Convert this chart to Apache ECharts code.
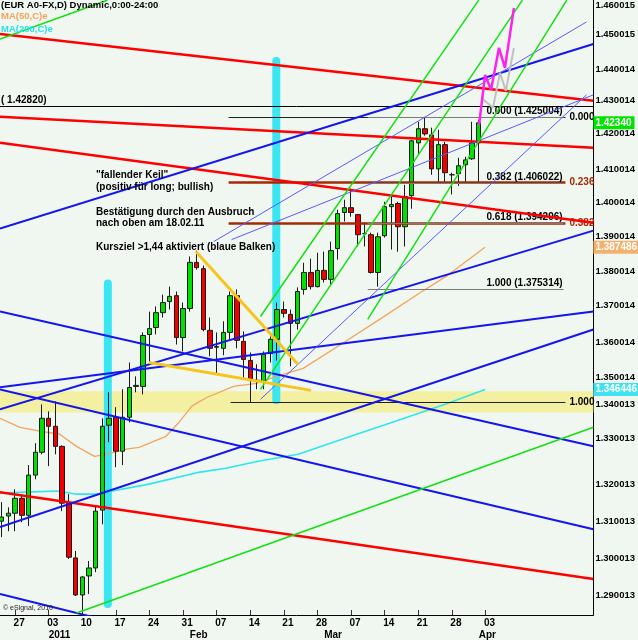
<!DOCTYPE html>
<html><head><meta charset="utf-8">
<script src="https://cdn.jsdelivr.net/npm/echarts@6/dist/echarts.min.js"></script>
<style>html,body{margin:0;padding:0;background:#f0f7f0}#c{width:638px;height:640px}</style>
</head><body><div id="c"></div>
<script>
// trading-day index: 0 = 03 Jan 2011, first candle = 23 Dec 2010
const firstIdx = -7;
const opens = [1.3084,1.3099,1.3107,1.3150,1.3101,1.3217,1.3283,
 1.3381,1.3358,1.3300,1.3136,1.2978, 1.2871,1.2926,1.2949,1.3116,1.3361,
 1.3384,1.3286,1.3384,1.3473,1.3473, 1.3623,1.3643,1.3686,1.3718,1.3735,
 1.3614,1.3698,1.3831,1.3813,1.3635, 1.3586,1.3583,1.3629,1.3735,1.3603,
 1.3548,1.3488,1.3485,1.3568,1.3609, 1.3695,1.3681,1.3655,1.3753,1.3802,
 1.3761,1.3808,1.3782,1.3871,1.3975, 1.3989,1.3969,1.3914,1.3911,1.3802,
 1.3908,1.3992,1.4001,1.3934,1.4024, 1.4176,1.4217,1.4199,1.4101,1.4171,
 1.4084,1.4087,1.4113,1.4130,1.4176];
const closes = [1.3096,1.3107,1.3150,1.3101,1.3217,1.3283,1.3381,
 1.3358,1.3300,1.3136,1.2980,1.2871, 1.2923,1.2949,1.3113,1.3358,1.3381,
 1.3286,1.3384,1.3470,1.3476,1.3620, 1.3640,1.3686,1.3715,1.3733,1.3614,
 1.3698,1.3831,1.3816,1.3637,1.3583, 1.3588,1.3629,1.3735,1.3606,1.3551,
 1.3491,1.3491,1.3565,1.3609,1.3695, 1.3684,1.3655,1.3747,1.3802,1.3761,
 1.3808,1.3782,1.3865,1.3972,1.3989, 1.3975,1.3911,1.3914,1.3802,1.3905,
 1.3992,1.3998,1.3934,1.4021,1.4182, 1.4217,1.4202,1.4101,1.4171,1.4090,
 1.4084,1.4110,1.4127,1.4176,1.4234];
const lows = [1.3038,1.3055,1.3055,1.3081,1.3070,1.3205,1.3277,
 1.3243,1.3277,1.3113,1.2975,1.2868, 1.2828,1.2874,1.2937,1.3075,1.3312,
 1.3240,1.3246,1.3369,1.3456,1.3450, 1.3545,1.3623,1.3672,1.3695,1.3594,
 1.3574,1.3689,1.3810,1.3632,1.3560, 1.3508,1.3563,1.3609,1.3583,1.3499,
 1.3427,1.3465,1.3465,1.3542,1.3548, 1.3672,1.3531,1.3637,1.3738,1.3753,
 1.3759,1.3773,1.3767,1.3839,1.3949, 1.3963,1.3877,1.3877,1.3799,1.3761,
 1.3903,1.3868,1.3862,1.3877,1.3986, 1.4142,1.4197,1.4084,1.4061,1.4061,
 1.4027,1.4052,1.4061,1.4127,1.4061];
const highs = [1.3139,1.3124,1.3176,1.3162,1.3246,1.3309,1.3421,
 1.3401,1.3430,1.3303,1.3162,1.2998, 1.2926,1.2969,1.3127,1.3381,1.3456,
 1.3413,1.3465,1.3542,1.3502,1.3629, 1.3689,1.3704,1.3738,1.3761,1.3747,
 1.3715,1.3848,1.3865,1.3822,1.3672, 1.3629,1.3661,1.3747,1.3753,1.3632,
 1.3571,1.3537,1.3574,1.3617,1.3715, 1.3718,1.3695,1.3759,1.3830,1.3842,
 1.3859,1.3862,1.3891,1.3983,1.4012, 1.4044,1.3969,1.3946,1.3917,1.3917,
 1.4006,1.4021,1.4006,1.4055,1.4185, 1.4237,1.4251,1.4220,1.4214,1.4179,
 1.4090,1.4133,1.4136,1.4237,1.4243];

// moving averages: [day index, value]
const ma50 = [[-7.25,1.3381],[-4.29,1.3355],[-1.33,1.3344],[1.63,1.3335],[4.14,1.3300],[6.80,1.3271],
 [8.58,1.3277],[11.54,1.3292],[13.46,1.3297],[17.45,1.3329],[19.38,1.3369],[21.30,1.3416],
 [23.52,1.3441],[27.51,1.3473],[30.92,1.3482],[33.43,1.3499],[37.87,1.3525],[43.05,1.3589],
 [48.96,1.3663],[55.32,1.3744],[59.32,1.3793],[64.94,1.3875]];
const ma200 = [[-7.25,1.3165],[1.18,1.3171],[4.14,1.3162],[7.54,1.3162],[9.47,1.3171],[14.94,1.3191],
 [22.34,1.3225],[26.33,1.3237],[31.21,1.3257],[37.13,1.3277],[44.52,1.3326],[51.92,1.3375],
 [59.32,1.3424],[64.94,1.3464]];

// hand-drawn trend lines [[x1,y1],[x2,y2]] in data units
const redLines = [[[-7.25,1.44905],[81.06,1.42974]],[[-7.25,1.42513],[81.06,1.41620]],
 [[-7.25,1.41764],[81.06,1.39458]],[[-7.25,1.31677],[81.06,1.29169]]];
const blueLines = [[[-7.25,1.39285],[81.06,1.44617]],[[-7.25,1.36893],[81.06,1.33003]],
 [[-7.25,1.34069],[81.06,1.39228]],[[-7.25,1.34703],[81.06,1.36893]],
 [[-7.25,1.34645],[81.06,1.30610]],[[-7.25,1.30668],[81.06,1.36374]],
 [[-7.25,1.28737],[81.06,1.24500]]];
const thinBlueLines = [[[31.51,1.34357],[80.03,1.43147]],[[24.55,1.38911],[80.03,1.45251]],
 [[27.22,1.38968],[81.06,1.43147]]];
const greenLines = [[[-7.25,1.4476],[8.73,1.4588]],[[4.14,1.28190],[81.06,1.33550]],
 [[31.51,1.36749],[64.0,1.4588]],[[31.51,1.34645],[70.5,1.4588]],[[47.48,1.36663],[77.1,1.4588]]];
const wedgeLines = [[[21.89,1.38623],[37.13,1.35366]],[[14.94,1.35423],[39.05,1.34616]]];
const targetBars = [[[8.80,1.3770],[8.80,1.28449]],[[33.87,1.44127],[33.87,1.34328]]];
const projMagenta = [[64.05,1.42283],[64.94,1.43724],[65.83,1.43291],[67.01,1.44502],[67.90,1.43925],[69.23,1.45654]];
const projGray = [[64.35,1.43061],[66.12,1.42772],[67.16,1.43781],[68.04,1.43262],[69.23,1.44502]];

// Fibonacci levels
const fibGrayLevels = [1.425004,1.406022,1.394296,1.375314];
const fibGrayText = ['0.000','0.382','0.618','1.000'];
const fibBrownLevels = [1.425004,1.40611,1.39429,1.3427];
const fibBrownText = ['0.000','0.236','0.382','1.000'];
const supportBand = [1.3398,1.3459];
const lastValues = [1.4234,1.387486,1.346446];
const lastText = ['1.42340','1.387486','1.346446'];

// axis labels
const dayTickIdx = [-5,0,5,10,15,20,25,30,35,40,45,50,55,60,65];
const dayTickLabels = ['27','03','10','17','24','31','07','14','21','28','07','14','21','28','03'];
const monthIdx = [0,21,41,64];
const monthLabels = ['2011','Feb','Mar','Apr'];
const yLabelPos = [1.28708,1.29775,1.30841,1.31907,1.33233,1.34213,1.34991,1.35999,1.37066,1.38046,
 1.39055,1.40035,1.40986,1.42023,1.42974,1.43896,1.44905,1.45741];
const yLabelText = ['1.290013','1.300013','1.310013','1.320013','1.330013','1.340013','1.350014','1.360014',
 '1.370014','1.380014','1.390014','1.400014','1.410014','1.420014','1.430014','1.440014','1.450015','1.460015'];

const FONT = '"Liberation Sans", Arial, sans-serif';
const XMIN = -7.25, XMAX = 81.06, YMIN = 1.28132, YMAX = 1.45885;
const badgeColors = ['#00e400','#f5b06c','#3ee3ef'];

const candles = opens.map((o, k) => [firstIdx + k, o, closes[k], lows[k], highs[k]]);

function pick(arr, labels, v) {
  let best = 0;
  for (let k = 1; k < arr.length; k++) if (Math.abs(arr[k] - v) < Math.abs(arr[best] - v)) best = k;
  return labels[best];
}
function seg(pts, color, width, z, extra) {
  return Object.assign({ type: 'line', data: pts, symbol: 'none', silent: true, animation: false,
    lineStyle: { color: color, width: width }, z: z }, extra || {});
}
const dayLabelPos = dayTickIdx.map(v => v + 0.6);

const series = [];
// support band
series.push({ type: 'line', data: [], z: 1, silent: true,
  markArea: { silent: true, itemStyle: { color: '#f3f0a2' },
    data: [[{ yAxis: supportBand[0] }, { yAxis: supportBand[1] }]] } });
// cyan target bars
targetBars.forEach(b => series.push(seg(b, '#3ae6f2', 8, 2, { lineStyle: { color: '#3ae6f2', width: 8, cap: 'round' } })));
// moving averages
series.push(seg(ma50, '#f2a45c', 1.3, 3));
series.push(seg(ma200, '#2ee6ee', 1.6, 3));
// fib lines (brown set + gray set)
series.push({ type: 'line', data: [], z: 3, silent: true,
  markLine: { symbol: 'none', silent: true, animation: false,
    data: fibBrownLevels.map((p, k) => {
      const brown = (k === 1 || k === 2);
      const x1 = k === 3 ? 27.07 : 26.77;
      return [{ coord: [x1, p], lineStyle: { color: brown ? '#a42a06' : '#202020', width: brown ? 2.5 : 1, type: 'solid' },
        label: { show: true, position: 'end', distance: 4, formatter: fibBrownText[k], color: brown ? '#a42a06' : '#000',
          fontFamily: FONT, fontSize: 10, fontWeight: 'bold', padding: [0, 0, 11, 0] } },
        { coord: [76.9, p] }];
    }).concat(fibGrayLevels.map((p, k) => [{ coord: [47.48, p], lineStyle: { color: '#7a7a7a', width: 1, type: 'solid' },
        label: { show: true, position: 'insideEndTop', distance: 1, formatter: fibGrayText[k] + ' (' + p.toFixed(6) + ')',
          color: '#000', fontFamily: FONT, fontSize: 10, fontWeight: 'bold' } },
      { coord: [76.63, p] }])).concat([[{ coord: [XMIN, 1.4282], lineStyle: { color: '#000', width: 1, type: 'solid' },
        label: { show: true, position: 'insideStartTop', distance: 1, formatter: '( 1.42820)', color: '#000',
          fontFamily: FONT, fontSize: 10, fontWeight: 'bold' } }, { coord: [XMAX, 1.4282] }]])
  } });
// last-value badges on the price axis
series.push({ type: 'line', data: [], z: 8, silent: true,
  markLine: { symbol: 'none', silent: true, animation: false,
    data: lastValues.map((v, k) => [{ coord: [XMAX - 0.01, v], lineStyle: { color: 'rgba(0,0,0,0)', width: 1 },
      label: { show: true, position: 'end', distance: 0, formatter: lastText[k], color: '#fff', backgroundColor: badgeColors[k],
        fontFamily: FONT, fontSize: 10, fontWeight: 'bold', padding: [2, 3, 1, 2] } }, { coord: [XMAX, v] }]) } });
// candles
series.push({ type: 'candlestick', data: candles, encode: { x: 0, y: [1, 2, 3, 4] }, barWidth: 5, z: 4,
  silent: true, animation: false,
  itemStyle: { color: '#00e000', color0: '#f00000', borderColor: '#1a1a1a', borderColor0: '#1a1a1a',
    borderColorDoji: '#1a1a1a', borderWidth: 1 } });
// trend lines
redLines.forEach(l => series.push(seg(l, '#ff0000', 2.5, 5)));
blueLines.forEach(l => series.push(seg(l, '#1414f0', 2, 5)));
thinBlueLines.forEach(l => series.push(seg(l, '#5a5aff', 1, 5)));
greenLines.forEach(l => series.push(seg(l, '#12e012', 1.5, 5)));
wedgeLines.forEach(l => series.push(seg(l, '#f6c41a', 3, 5)));
series.push(seg(projGray, '#c0c0c0', 2, 6));
series.push(seg(projMagenta, '#ff22ee', 2.5, 6));

const txt = (t, left, top, fill, size) => ({ type: 'text', left: left, top: top, silent: true, z: 100,
  style: { text: t, fill: fill || '#000', font: 'bold ' + (size || 10) + 'px ' + FONT } });

const option = {
  backgroundColor: '#f0f7f0',
  animation: false,
  grid: { left: 0, right: 41, top: 0, bottom: 24, containLabel: false },
  xAxis: [{
    type: 'value', min: XMIN, max: XMAX, position: 'bottom',
    axisLine: { show: true, onZero: false, lineStyle: { color: '#000', width: 1 } },
    axisTick: { show: true, inside: true, length: 5, customValues: dayTickIdx, lineStyle: { color: '#333' } },
    splitLine: { show: false },
    axisLabel: { customValues: dayLabelPos, margin: 3, color: '#000', fontFamily: FONT, fontSize: 10, fontWeight: 'bold',
      formatter: v => pick(dayLabelPos, dayTickLabels, v) }
  }, {
    type: 'value', min: XMIN, max: XMAX, position: 'bottom', offset: 12,
    axisLine: { show: false, onZero: false }, axisTick: { show: false }, splitLine: { show: false },
    axisLabel: { customValues: monthIdx, margin: 3, align: 'left', color: '#000', fontFamily: FONT, fontSize: 10, fontWeight: 'bold',
      formatter: v => pick(monthIdx, monthLabels, v) }
  }],
  yAxis: {
    type: 'value', min: YMIN, max: YMAX, position: 'right', scale: true,
    axisLine: { show: true, onZero: false, lineStyle: { color: '#000', width: 1 } },
    axisTick: { show: false }, splitLine: { show: false },
    axisLabel: { customValues: yLabelPos, margin: 2, align: 'left', verticalAlign: 'middle', color: '#000',
      fontFamily: FONT, fontSize: 9.5, fontWeight: 'bold', formatter: v => pick(yLabelPos, yLabelText, v) }
  },
  series: series,
  graphic: [
    txt('(EUR A0-FX,D) Dynamic,0:00-24:00', 1, 0, '#000', 9.5),
    txt('MA(50,C)e', 1, 11, '#f2a45c', 9.5),
    txt('MA(200,C)e', 1, 24, '#22e2ea', 9.5),
    txt('"fallender Keil"', 96, 170),
    txt('(positiv für long; bullish)', 96, 182),
    txt('Bestätigung durch den Ausbruch', 96, 207),
    txt('nach oben am 18.02.11', 96, 218),
    txt('Kursziel >1,44 aktiviert (blaue Balken)', 96, 242),
    { type: 'text', left: 3, top: 605, silent: true, z: 100, style: { text: '© eSignal, 2010', fill: '#222', font: '7px ' + FONT } }
  ]
};
const chart = echarts.init(document.getElementById('c'), null, { renderer: 'canvas' });
chart.setOption(option);
</script></body></html>
